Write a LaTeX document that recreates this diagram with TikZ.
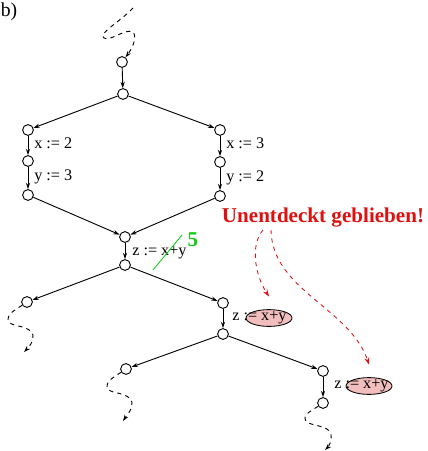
\documentclass[tikz,border=0pt]{standalone}
\usepackage{fontspec}
\setmainfont{Liberation Serif}
\usetikzlibrary{arrows.meta,shapes.geometric}
\definecolor{hred}{HTML}{DD1111}
\definecolor{hgreen}{HTML}{11CC11}
\definecolor{hpink}{HTML}{F2BDBD}

\begin{document}
\begin{tikzpicture}[x=0.025cm, y=-0.025cm,
    vertex/.style={circle, draw, line width=0.65pt, minimum size=0.27cm, inner sep=0pt},
    arr/.style={-{Stealth[length=4.5pt,width=3pt]}, line width=0.65pt},
    squig/.style={-{Stealth[length=4.5pt,width=3pt]}, dashed, line width=0.65pt},
    stmt/.style={font=\fontsize{11.5}{13}\selectfont, inner sep=0pt, anchor=west},
    hint/.style={-{Stealth[length=5pt,width=3.5pt]}, dashed, draw=hred, line width=0.6pt},
    hilite/.style={ellipse, draw, fill=hpink, line width=0.6pt, minimum width=1.15cm, minimum height=0.42cm, inner sep=0pt}
]
    \useasboundingbox (0,0) rectangle (427,451);
    \node[font=\fontsize{14}{16}\selectfont, inner sep=0pt, anchor=west] (lbl) at (0.5,12) {b)};

    % flow graph nodes
    \node[vertex] (n0) at (122,62) {};
    \node[vertex] (n1) at (123,94) {};
    \node[vertex] (l1) at (28,130) {};
    \node[vertex] (l2) at (28,161) {};
    \node[vertex] (l3) at (28,195) {};
    \node[vertex] (r1) at (220,130) {};
    \node[vertex] (r2) at (220,162) {};
    \node[vertex] (r3) at (220,196) {};
    \node[vertex] (m1) at (125,237) {};
    \node[vertex] (m2) at (125,265) {};
    \node[vertex] (ll) at (27,302) {};
    \node[vertex] (rl1) at (223,303) {};
    \node[vertex] (rl2) at (223,334) {};
    \node[vertex] (lll) at (126,369) {};
    \node[vertex] (rrl1) at (323,371) {};
    \node[vertex] (rrl2) at (323,403) {};

    % statements
    \node[stmt] (sx2) at (34,143) {x := 2};
    \node[stmt] (sy3) at (34,177) {y := 3};
    \node[stmt] (sx3) at (226,143) {x := 3};
    \node[stmt] (sy2) at (226,178) {y := 2};
    \node[stmt] (sz) at (132,253) {z := x+y};
    \draw[hgreen, line width=0.6pt] (153,270) -- (182,235);
    \node[font=\fontsize{15}{17}\selectfont\bfseries, text=hgreen] (five) at (193,240) {5};

    \node[hilite] (e1) at (269,318) {};
    \node[stmt] (sz1) at (232,318) {z := x+y};
    \node[hilite] (e2) at (369,386) {};
    \node[stmt] (sz2) at (334,386) {z := x+y};

    \node[font=\fontsize{15}{17}\selectfont\bfseries, text=hred] (warn) at (323,218) {Unentdeckt geblieben!};

    % edges
    \draw[arr] (n0) -- (n1);
    \draw[arr] (n1) -- (l1);
    \draw[arr] (n1) -- (r1);
    \draw[arr] (l1) -- (l2);
    \draw[arr] (l2) -- (l3);
    \draw[arr] (r1) -- (r2);
    \draw[arr] (r2) -- (r3);
    \draw[arr] (l3) -- (m1);
    \draw[arr] (r3) -- (m1);
    \draw[arr] (m1) -- (m2);
    \draw[arr] (m2) -- (ll);
    \draw[arr] (m2) -- (rl1);
    \draw[arr] (rl1) -- (rl2);
    \draw[arr] (rl2) -- (lll);
    \draw[arr] (rl2) -- (rrl1);
    \draw[arr] (rrl1) -- (rrl2);

    % dashed continuations
    \coordinate (topstart) at (133,8);
    \coordinate (llend) at (24,352);
    \coordinate (lllend) at (123,421);
    \coordinate (rrlend) at (325,450);
    \draw[squig] (topstart) .. controls (120,22) and (97,34) .. (104,38)
        .. controls (110,42) and (125,28) .. (133,32) .. controls (138,38) and (131,50) .. (n0);
    \draw[squig] (ll) .. controls (15,310) and (5,315) .. (9,322)
        .. controls (12,327) and (30,325) .. (33,335) .. controls (34,342) and (28,348) .. (llend);
    \draw[squig] (lll) .. controls (114,377) and (104,382) .. (108,389)
        .. controls (111,394) and (129,392) .. (132,402) .. controls (133,409) and (127,415) .. (lllend);
    \draw[squig] (rrl2) .. controls (311,411) and (302,415) .. (306,421)
        .. controls (309,426) and (329,425) .. (331,434) .. controls (332,441) and (329,446) .. (rrlend);

    % hints
    \coordinate (w1) at (263,230);
    \coordinate (w2) at (271,230);
    \draw[hint] (w1) .. controls (250,245) and (255,275) .. ([yshift=9pt]e1.north);
    \draw[hint] (w2) .. controls (272,290) and (350,308) .. ([yshift=9pt]e2.north);
\end{tikzpicture}
\end{document}
